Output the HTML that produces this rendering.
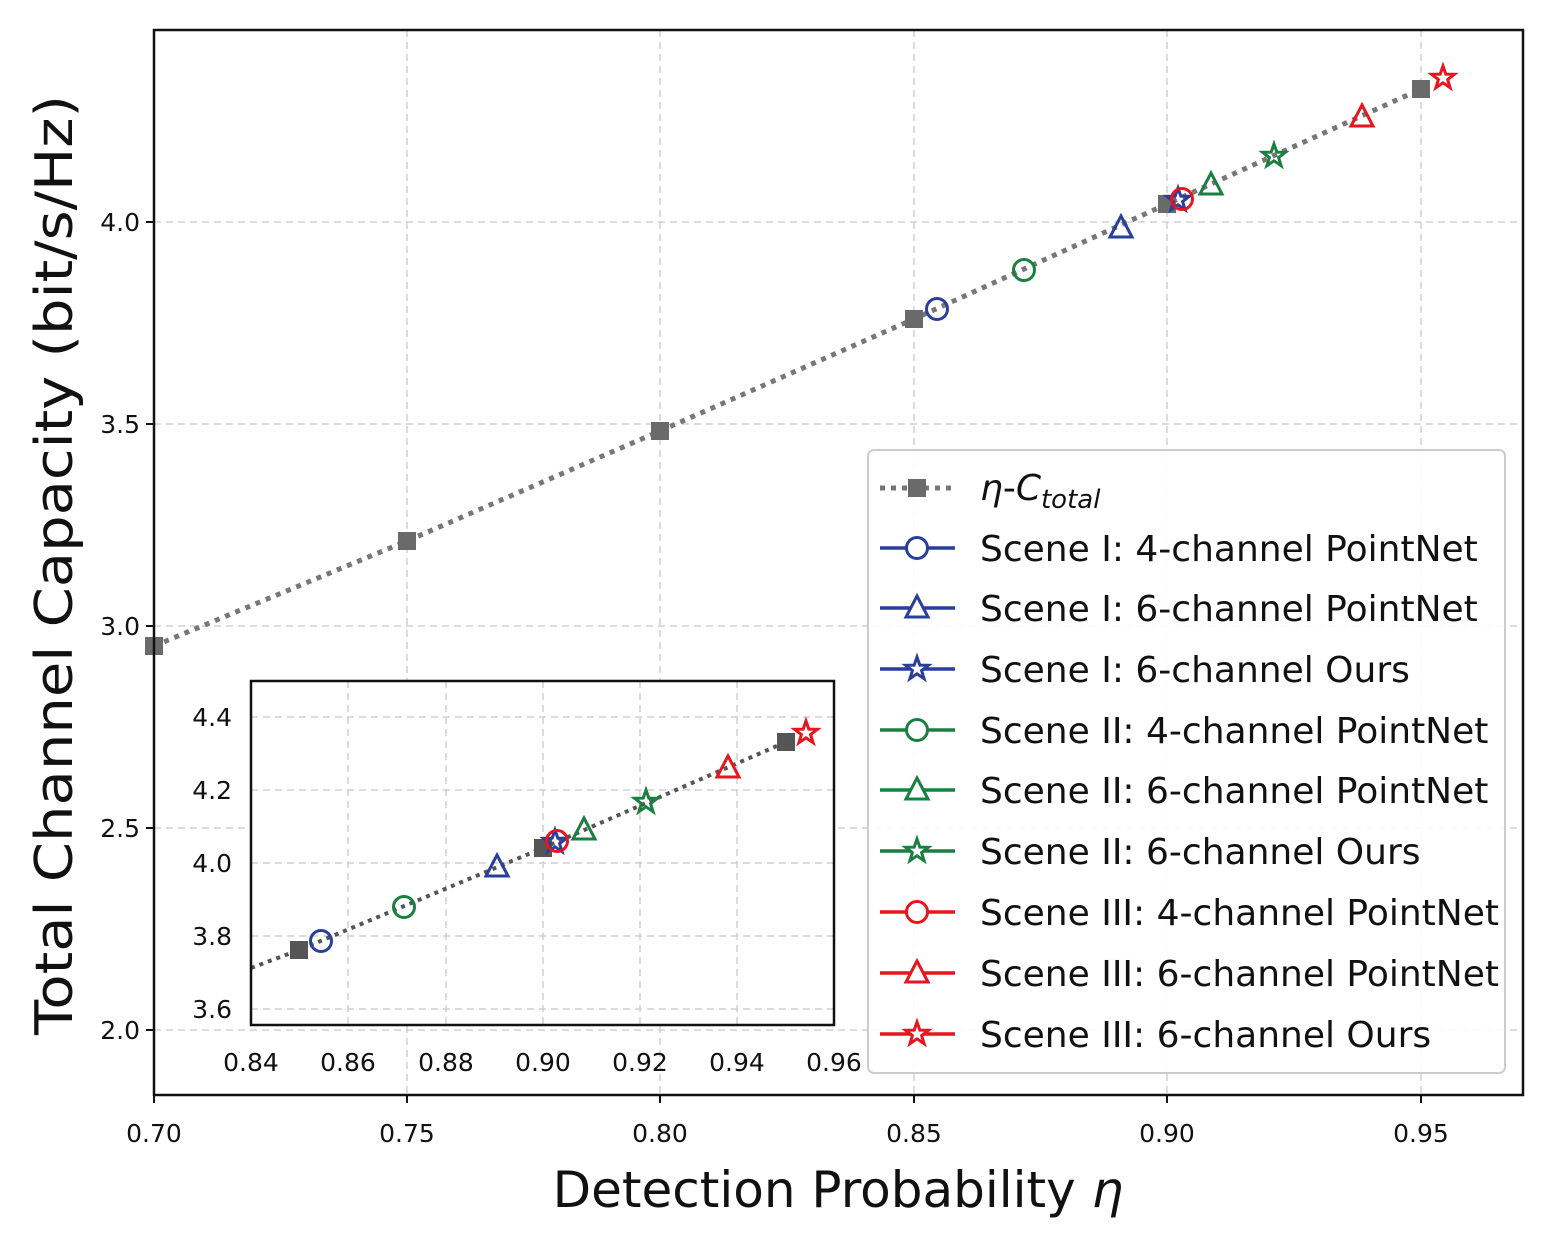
<!DOCTYPE html>
<html><head><meta charset="utf-8"><style>body{margin:0;background:#fff}svg{display:block}</style></head>
<body>
<svg width="1549" height="1241" viewBox="0 0 1549 1241" xmlns="http://www.w3.org/2000/svg" font-family="'DejaVu Sans','Liberation Sans',sans-serif">
<defs>
<path id="st" d="M0,-12 L2.8,-3.9 L11.4,-3.7 L4.6,1.5 L7.1,9.7 L0,4.8 L-7.1,9.7 L-4.6,1.5 L-11.4,-3.7 L-2.8,-3.9 Z"/>
<path id="tr" d="M0,-12 L11,9 L-11,9 Z"/>
</defs>
<rect width="1549" height="1241" fill="#fff"/>
<g stroke="#d0d0d0" stroke-width="1.5" stroke-dasharray="7,5">
<line x1="407" y1="30" x2="407" y2="1095"/><line x1="660" y1="30" x2="660" y2="1095"/><line x1="914" y1="30" x2="914" y2="1095"/><line x1="1167" y1="30" x2="1167" y2="1095"/><line x1="1421" y1="30" x2="1421" y2="1095"/>
<line x1="154" y1="222" x2="1523" y2="222"/><line x1="154" y1="424" x2="1523" y2="424"/><line x1="154" y1="626" x2="1523" y2="626"/><line x1="154" y1="828" x2="1523" y2="828"/><line x1="154" y1="1030" x2="1523" y2="1030"/>
</g>
<polyline points="154,646 407,541 660,431 914,319 1167,204 1421,89" fill="none" stroke="#777" stroke-width="5" stroke-dasharray="5,6"/>
<g fill="#6a6a6a"><rect x="145" y="637" width="18" height="18"/><rect x="398" y="532" width="18" height="18"/><rect x="651" y="422" width="18" height="18"/><rect x="905" y="310" width="18" height="18"/><rect x="1158" y="195" width="18" height="18"/><rect x="1412" y="80" width="18" height="18"/></g>
<g fill="none" stroke-width="3">
<circle cx="937" cy="309" r="10.5" stroke="#2a3f9a"/>
<use href="#tr" x="1121" y="228" stroke="#2a3f9a"/>
<use href="#st" x="1178" y="200" stroke="#2a3f9a"/>
<circle cx="1024" cy="270" r="10.5" stroke="#1a8040"/>
<use href="#tr" x="1211" y="185" stroke="#1a8040"/>
<use href="#st" x="1274" y="156" stroke="#1a8040"/>
<circle cx="1182" cy="199" r="10.5" stroke="#e8141e"/>
<use href="#tr" x="1362" y="117" stroke="#e8141e"/>
<use href="#st" x="1443" y="78" stroke="#e8141e"/>
</g>
<rect x="154" y="30" width="1369" height="1065" fill="none" stroke="#111" stroke-width="2.5"/>
<g font-size="25" fill="#111" text-anchor="middle">
<text x="154" y="1142">0.70</text><text x="407" y="1142">0.75</text><text x="660" y="1142">0.80</text><text x="914" y="1142">0.85</text><text x="1167" y="1142">0.90</text><text x="1421" y="1142">0.95</text>
</g>
<g font-size="25" fill="#111" text-anchor="end">
<text x="140" y="231">4.0</text><text x="140" y="433">3.5</text><text x="140" y="635">3.0</text><text x="140" y="837">2.5</text><text x="140" y="1039">2.0</text>
</g>
<g stroke="#111" stroke-width="2"><line x1="154" y1="1095" x2="154" y2="1103"/><line x1="407" y1="1095" x2="407" y2="1103"/><line x1="660" y1="1095" x2="660" y2="1103"/><line x1="914" y1="1095" x2="914" y2="1103"/><line x1="1167" y1="1095" x2="1167" y2="1103"/><line x1="1421" y1="1095" x2="1421" y2="1103"/>
<line x1="146" y1="222" x2="154" y2="222"/><line x1="146" y1="424" x2="154" y2="424"/><line x1="146" y1="626" x2="154" y2="626"/><line x1="146" y1="828" x2="154" y2="828"/><line x1="146" y1="1030" x2="154" y2="1030"/></g>
<text x="838" y="1207" font-size="50" text-anchor="middle" fill="#111">Detection Probability <tspan font-style="italic">η</tspan></text>
<text transform="translate(72,565) rotate(-90)" font-size="52" text-anchor="middle" fill="#111" textLength="940" lengthAdjust="spacingAndGlyphs">Total Channel Capacity (bit/s/Hz)</text>
<rect x="251" y="681" width="583" height="344" fill="#fff"/>
<g stroke="#d0d0d0" stroke-width="1.5" stroke-dasharray="7,5">
<line x1="348" y1="681" x2="348" y2="1025"/><line x1="446" y1="681" x2="446" y2="1025"/><line x1="543" y1="681" x2="543" y2="1025"/><line x1="640" y1="681" x2="640" y2="1025"/><line x1="737" y1="681" x2="737" y2="1025"/>
<line x1="251" y1="717" x2="834" y2="717"/><line x1="251" y1="790" x2="834" y2="790"/><line x1="251" y1="863" x2="834" y2="863"/><line x1="251" y1="936" x2="834" y2="936"/><line x1="251" y1="1009" x2="834" y2="1009"/>
</g>
<polyline points="251,968 299,950 543,848 786,742" fill="none" stroke="#555" stroke-width="4" stroke-dasharray="4,5"/>
<g fill="#555"><rect x="290" y="941" width="18" height="18"/><rect x="534" y="839" width="18" height="18"/><rect x="777" y="733" width="18" height="18"/></g>
<g fill="none" stroke-width="3">
<circle cx="321" cy="941" r="10.5" stroke="#2a3f9a"/>
<use href="#tr" x="497" y="867" stroke="#2a3f9a"/>
<use href="#st" x="555" y="842" stroke="#2a3f9a"/>
<circle cx="404" cy="907" r="10.5" stroke="#1a8040"/>
<use href="#tr" x="584" y="830" stroke="#1a8040"/>
<use href="#st" x="646" y="802" stroke="#1a8040"/>
<circle cx="557" cy="841" r="10.5" stroke="#e8141e"/>
<use href="#tr" x="728" y="768" stroke="#e8141e"/>
<use href="#st" x="806" y="733" stroke="#e8141e"/>
</g>
<rect x="251" y="681" width="583" height="344" fill="none" stroke="#111" stroke-width="2.5"/>
<g font-size="25" fill="#111" text-anchor="middle">
<text x="251" y="1071">0.84</text><text x="348" y="1071">0.86</text><text x="446" y="1071">0.88</text><text x="543" y="1071">0.90</text><text x="640" y="1071">0.92</text><text x="737" y="1071">0.94</text><text x="834" y="1071">0.96</text>
</g>
<g font-size="25" fill="#111" text-anchor="end">
<text x="232" y="726">4.4</text><text x="232" y="799">4.2</text><text x="232" y="872">4.0</text><text x="232" y="945">3.8</text><text x="232" y="1018">3.6</text>
</g>
<rect x="868" y="450" width="637" height="623" rx="6" fill="#fff" fill-opacity="0.9" stroke="#ccc" stroke-width="2"/>
<line x1="880" y1="488" x2="955" y2="488" stroke="#777" stroke-width="5" stroke-dasharray="5,6"/><rect x="908" y="479" width="18" height="18" fill="#6a6a6a"/>
<g stroke-width="3.5">
<line x1="880" y1="548" x2="955" y2="548" stroke="#2a3f9a"/><line x1="880" y1="608" x2="955" y2="608" stroke="#2a3f9a"/><line x1="880" y1="669" x2="955" y2="669" stroke="#2a3f9a"/>
<line x1="880" y1="730" x2="955" y2="730" stroke="#1a8040"/><line x1="880" y1="790" x2="955" y2="790" stroke="#1a8040"/><line x1="880" y1="851" x2="955" y2="851" stroke="#1a8040"/>
<line x1="880" y1="912" x2="955" y2="912" stroke="#e8141e"/><line x1="880" y1="973" x2="955" y2="973" stroke="#e8141e"/><line x1="880" y1="1034" x2="955" y2="1034" stroke="#e8141e"/>
</g>
<g fill="#fff" stroke-width="3">
<circle cx="917" cy="548" r="10.5" stroke="#2a3f9a"/><use href="#tr" x="917" y="608" stroke="#2a3f9a"/><use href="#st" x="917" y="669" stroke="#2a3f9a"/>
<circle cx="917" cy="730" r="10.5" stroke="#1a8040"/><use href="#tr" x="917" y="790" stroke="#1a8040"/><use href="#st" x="917" y="851" stroke="#1a8040"/>
<circle cx="917" cy="912" r="10.5" stroke="#e8141e"/><use href="#tr" x="917" y="973" stroke="#e8141e"/><use href="#st" x="917" y="1034" stroke="#e8141e"/>
</g>
<g font-size="36" fill="#111">
<text x="980" y="500"><tspan font-style="italic">η</tspan>-<tspan font-style="italic">C</tspan><tspan font-style="italic" font-size="26" dy="8">total</tspan></text>
<text x="980" y="561">Scene I: 4-channel PointNet</text>
<text x="980" y="621">Scene I: 6-channel PointNet</text>
<text x="980" y="682">Scene I: 6-channel Ours</text>
<text x="980" y="743">Scene II: 4-channel PointNet</text>
<text x="980" y="803">Scene II: 6-channel PointNet</text>
<text x="980" y="864">Scene II: 6-channel Ours</text>
<text x="980" y="925">Scene III: 4-channel PointNet</text>
<text x="980" y="986">Scene III: 6-channel PointNet</text>
<text x="980" y="1047">Scene III: 6-channel Ours</text>
</g>
</svg>
</body></html>
